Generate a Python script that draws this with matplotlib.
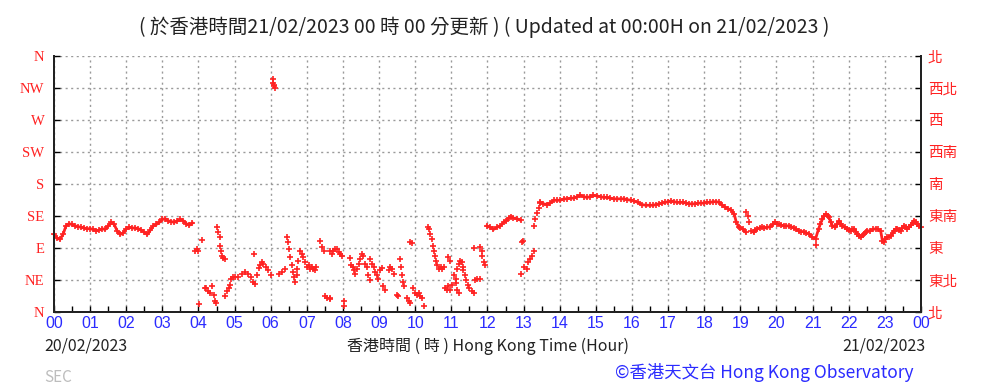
import matplotlib

matplotlib.use("Agg")

import matplotlib.pyplot as plt
from matplotlib.ticker import FixedLocator, MultipleLocator
import numpy as np

# wind direction (degrees) against minutes after 00:00 20/02/2023
steady_am_min = np.arange(0, 235, 5)
steady_am_dir = [109, 104, 102, 109, 121, 124, 123, 121, 120, 119, 118, 117, 117, 116, 114,
                 115, 117, 116, 121, 126, 123, 114, 109, 111, 117, 119, 118, 118, 117, 115,
                 112, 109, 115, 121, 123, 126, 130, 131, 128, 127, 126, 128, 130, 128, 124,
                 122, 125]

light_min = [235, 238, 240, 241, 246,
             251, 253, 256, 259, 262, 265, 268, 269,
             270, 273, 275, 276, 278, 279, 281, 284,
             284, 287, 290, 292, 294, 298,
             301, 306, 312, 317, 323, 328, 331, 334, 333,
             337, 340, 342, 345, 348, 352, 356, 360,
             364, 364, 365, 366, 367,
             374, 378, 384,
             387, 389, 391, 392,
             395, 397, 399, 400, 403, 404, 406, 409, 412, 414, 417, 420, 423, 425, 428, 431,
             434, 436,
             442, 445, 448,
             450, 453, 458,
             459, 461, 464, 467, 470, 473, 475, 478,
             459, 481, 481,
             491, 493, 496, 499, 500, 503, 506, 509, 511, 514, 517, 520, 522, 525,
             525, 528, 531, 534, 536, 539, 542, 545,
             547, 550,
             556, 558, 561, 564,
             570, 572,
             575, 576, 578, 580, 582, 586, 589, 592,
             591, 594,
             597, 600, 603, 606, 608, 611, 615,
             621, 623, 625, 628, 629, 632, 633, 635, 636, 639, 642, 644, 647,
             655, 658,
             650, 653, 655, 658, 661, 664, 667, 668, 670, 672,
             669, 672, 675, 678, 679, 680, 682, 685, 687, 690, 694,
             697, 697, 700, 703, 707, 708, 711, 711, 714, 716]
light_dir = [85, 88, 86, 11, 101,
             34, 33, 29, 26, 36, 24, 16, 12,
             119, 112, 105, 93, 86, 79, 76, 74,
             22, 29, 33, 38, 47, 49,
             49, 49, 54, 56, 54, 49, 42, 39, 81,
             52, 62, 66, 70, 68, 63, 59, 52,
             327, 322, 319, 317, 315,
             54, 56, 61,
             105, 98, 89, 77,
             66, 56, 49, 42, 52, 61, 72, 86, 82, 77, 70, 63, 66, 61, 63, 61,
             59, 63,
             100, 91, 86,
             22, 19, 18,
             86, 82, 86, 89, 88, 84, 82, 79,
             19, 15, 8,
             76, 66, 63, 59, 54, 61, 68, 75, 82, 79, 68, 63, 52, 45,
             75, 68, 63, 56, 52, 47, 59, 62,
             36, 31,
             59, 63, 61, 54,
             24, 22,
             75, 63, 52, 42, 36, 19, 15, 13,
             98, 97,
             33, 26, 24, 26, 22, 19, 8,
             119, 116, 109, 102, 93, 86, 79, 72, 66, 61, 63, 61, 63,
             77, 72,
             33, 31, 36, 31, 38, 52, 47, 40, 31, 26,
             61, 68, 72, 70, 63, 59, 52, 45, 38, 33, 29,
             90, 26, 45, 46, 47, 91, 86, 79, 70, 66]

sea_min = [719, 725, 730, 736, 741, 747, 751, 755, 759, 763, 769, 775]
sea_dir = [121, 119, 116, 119, 121, 126, 128, 132, 134, 132, 131, 129]

veer_min = [775, 777, 779, 780, 785, 787, 790, 794, 797, 797, 799, 802, 805, 807]
veer_dir = [54, 98, 100, 63, 61, 70, 75, 79, 86, 121, 130, 139, 146, 153]

steady_pm_min = [808, 813, 819, 824, 830, 835, 841, 847, 852, 858, 863, 869, 874, 880, 885,
                 891, 896, 902, 908, 913, 919, 924, 930, 935, 941, 947, 952, 958, 963, 970,
                 976, 983, 990, 995, 1000, 1005, 1010, 1015, 1020, 1025, 1030, 1035, 1040,
                 1045, 1050, 1055, 1060, 1065, 1070, 1075, 1080, 1085, 1090, 1095, 1100,
                 1105, 1110, 1115, 1120, 1125, 1130, 1133, 1137, 1140, 1145, 1149]
steady_pm_dir = [154, 152, 151, 153, 157, 157, 157, 159, 159, 160, 160, 162, 164, 162, 161,
                 162, 164, 163, 162, 161, 161, 160, 159, 159, 159, 159, 158, 157, 156, 154,
                 151, 150, 150, 150, 151, 152, 153, 154, 155, 156, 155, 154, 154,
                 154, 153, 152, 152, 152, 153, 153, 153, 154, 154, 155, 155,
                 154, 150, 147, 145, 143, 137, 127, 120, 118, 116, 112]

branch_min = [1150, 1152, 1155, 1157, 1265]
branch_dir = [141, 135, 126, 114, 94]

night_min = [1162, 1165, 1168, 1172, 1176, 1180, 1185, 1190, 1194, 1198, 1201, 1204, 1208,
             1212, 1216, 1220, 1224, 1229, 1233, 1237, 1241, 1245, 1249, 1254, 1259, 1265,
             1270, 1273, 1276, 1279, 1282, 1285, 1287, 1290, 1293, 1298, 1301, 1304,
             1307, 1309, 1313, 1317, 1320, 1323, 1326, 1329, 1332, 1334, 1337, 1340, 1343,
             1345, 1348, 1351, 1356, 1360, 1365, 1369, 1373,
             1376, 1378, 1381, 1384, 1387, 1390, 1393, 1395, 1398, 1401, 1404, 1406, 1409,
             1412, 1415, 1417, 1420, 1423, 1426, 1428, 1431, 1434, 1437, 1440]
night_dir = [112, 115, 117, 118, 119, 118, 119, 120, 123, 126, 124, 123, 122,
             121, 121, 121, 120, 118, 116, 114, 113, 113, 111, 110, 105, 103,
             117, 124, 130, 135, 137, 135, 133, 127, 121, 119, 124, 128,
             124, 121, 119, 117, 115, 114, 116, 117, 113, 110, 107, 105, 108,
             110, 112, 114, 114, 116, 117, 116, 114,
             100, 98, 102, 105, 106, 107, 111, 114, 116, 117, 115, 114, 118,
             121, 119, 117, 120, 122, 125, 128, 126, 123, 121, 119]

hour_labels = ["%02d" % h for h in range(24)] + ["00"]
dir_labels_en = ["N", "NE", "E", "SE", "S", "SW", "W", "NW", "N"]
dir_labels_zh = ["北", "東北", "東", "東南", "南", "西南", "西", "西北", "北"]

RED = "#ff2222"
BLUE = "#2b2bff"
CJK = ["Noto Sans CJK TC", "DejaVu Sans"]

fig = plt.figure(figsize=(9.83, 3.88), dpi=100)
ax = fig.add_axes([0.0549, 0.196, 0.8820, 0.660])

# continuous stretches: markers joined by a thin trail
for t, d in [(steady_am_min, steady_am_dir), (sea_min, sea_dir),
             (steady_pm_min, steady_pm_dir), (night_min, night_dir)]:
    ax.plot(t, d, linestyle="-", linewidth=2.0, marker="+", color=RED, markersize=4.3,
            markeredgewidth=1.2, clip_on=False, zorder=3)
# scattered light-wind readings: markers only
for t, d in [(light_min, light_dir), (veer_min, veer_dir), (branch_min, branch_dir)]:
    ax.plot(t, d, linestyle="none", marker="+", color=RED, markersize=4.0,
            markeredgewidth=1.2, clip_on=False, zorder=3)

ax.set_xlim(0, 1440)
ax.set_ylim(0, 360)
ax.xaxis.set_minor_locator(MultipleLocator(30))
ax.set_xticks(np.arange(0, 1441, 60))
ax.set_xticklabels(hour_labels, color=BLUE, family="Liberation Sans", fontsize=11.5)
ax.yaxis.set_major_locator(FixedLocator(np.arange(0, 361, 45)))
ax.set_yticklabels(dir_labels_en, color=RED, family="Liberation Serif", fontsize=10.5)

ax.tick_params(axis="x", which="both", direction="in", length=4, width=1, pad=3,
               top=False)
ax.tick_params(axis="y", which="major", direction="in", length=4, width=1, pad=7,
               right=False)

ax2 = ax.twinx()
ax2.set_ylim(0, 360)
ax2.yaxis.set_major_locator(FixedLocator(np.arange(0, 361, 45)))
ax2.set_yticklabels(dir_labels_zh, color=RED, family=CJK, fontsize=10.5)
ax2.tick_params(axis="y", direction="in", length=4, width=1, pad=5)

ax.grid(True, which="major", color="#9a9a9a", linestyle=(0, (1.5, 2.5)), linewidth=1)
for a in (ax, ax2):
    a.spines["top"].set_visible(False)
    for s in ("left", "right", "bottom"):
        a.spines[s].set_linewidth(1.4)
        a.spines[s].set_color("#222222")

fig.text(0.493, 0.930,
         "( 於香港時間21/02/2023 00 時 00 分更新 ) ( Updated at 00:00H on 21/02/2023 )",
         ha="center", va="center", fontsize=14, family=CJK, color="#222222")
fig.text(0.0448, 0.108, "20/02/2023", ha="left", va="center", fontsize=11.5,
         family=CJK, color="#222222")
fig.text(0.496, 0.108, "香港時間 ( 時 ) Hong Kong Time (Hour)", ha="center", va="center",
         fontsize=11.5, family=CJK, color="#222222")
fig.text(0.941, 0.108, "21/02/2023", ha="right", va="center", fontsize=11.5,
         family=CJK, color="#222222")
fig.text(0.0448, 0.028, "SEC", ha="left", va="center", fontsize=11, family=CJK,
         color="#bdbdbd")
fig.text(0.929, 0.041, "©香港天文台 Hong Kong Observatory", ha="right", va="center",
         fontsize=12.5, family=CJK, color=BLUE)

fig.savefig("out.png", dpi=100)
